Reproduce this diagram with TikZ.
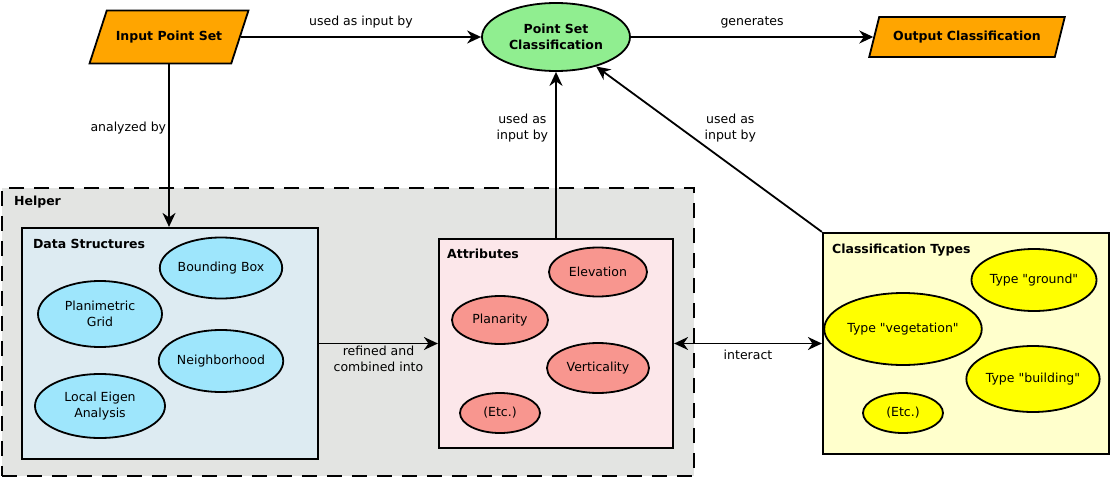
\documentclass[tikz,border=0pt]{standalone}
\usepackage{fontspec}
\setmainfont{DejaVu Sans}
\usetikzlibrary{shapes.geometric,arrows.meta}
\newcommand\diagfont{\fontsize{12.5}{16}\selectfont}
\definecolor{ioorange}{HTML}{FFA500}
\definecolor{pscgreen}{HTML}{90EE90}
\definecolor{helpergray}{HTML}{E3E4E2}
\definecolor{dsblue}{HTML}{DDEBF2}
\definecolor{dscyan}{HTML}{9EE6FC}
\definecolor{attrpink}{HTML}{FCE7EA}
\definecolor{attrsalmon}{HTML}{F8968F}
\definecolor{ctyellow}{HTML}{FFFFCC}
\definecolor{typeyellow}{HTML}{FFFF00}
\tikzset{
  iobox/.style={trapezium, trapezium left angle=72, trapezium right angle=108,
    draw, line width=1.8pt, fill=ioorange, font=\diagfont\bfseries},
  groupbox/.style={rectangle, draw, line width=2.2pt, inner sep=0pt},
  boxtitle/.style={font=\diagfont\bfseries, anchor=west, inner sep=0pt},
  part/.style={ellipse, draw, line width=1.8pt, inner sep=0pt, align=center},
  flow/.style={line width=1.8pt, -{Stealth[length=14pt,width=13pt]}},
  lbl/.style={align=center, inner sep=2pt}
}

\begin{document}
\begin{tikzpicture}[x=1pt,y=-1pt,font=\diagfont]
\useasboundingbox (0,0) rectangle (1112,479);

\node[iobox, inner xsep=9pt, inner ysep=20.5pt] (input) at (169,37) {Input Point Set};
\node[part, fill=pscgreen, font=\diagfont\bfseries, minimum width=148pt, minimum height=68pt] (psc) at (556,37) {Point Set\\Classification};
\node[iobox, trapezium left angle=76, trapezium right angle=104, inner xsep=14pt, inner ysep=14pt] (output) at (967,37) {Output Classification};

\node[groupbox, dash pattern=on 15pt off 10pt, fill=helpergray, minimum width=692pt, minimum height=288pt] (helper) at (348,332) {};
\node[boxtitle] (helpertitle) at ([shift={(13,15)}]helper.north west) {Helper};

\node[groupbox, fill=dsblue, minimum width=296pt, minimum height=231pt] (ds) at (170,343.5) {};
\node[boxtitle] (dstitle) at ([shift={(12,17)}]ds.north west) {Data Structures};
\node[part, fill=dscyan, minimum width=122pt, minimum height=61pt] (bbox) at (221,268) {Bounding Box};
\node[part, fill=dscyan, minimum width=124pt, minimum height=66pt] (grid) at (100,314) {Planimetric\\Grid};
\node[part, fill=dscyan, minimum width=124pt, minimum height=62pt] (neigh) at (221,361) {Neighborhood};
\node[part, fill=dscyan, minimum width=130pt, minimum height=64pt] (eigen) at (100,406) {Local Eigen\\Analysis};

\node[groupbox, fill=attrpink, minimum width=234pt, minimum height=209pt] (attr) at (556,343.5) {};
\node[boxtitle] (attrtitle) at ([shift={(9,16)}]attr.north west) {Attributes};
\node[part, fill=attrsalmon, minimum width=98pt, minimum height=49pt] (elev) at (598,272) {Elevation};
\node[part, fill=attrsalmon, minimum width=96pt, minimum height=48pt] (plan) at (500,320) {Planarity};
\node[part, fill=attrsalmon, minimum width=102pt, minimum height=50pt] (vert) at (598,368) {Verticality};
\node[part, fill=attrsalmon, minimum width=80pt, minimum height=40pt] (attretc) at (500,413) {(Etc.)};

\node[groupbox, fill=ctyellow, minimum width=286pt, minimum height=221pt] (ct) at (966,343.5) {};
\node[boxtitle] (cttitle) at ([shift={(10,18)}]ct.north west) {Classification Types};
\node[part, fill=typeyellow, minimum width=124pt, minimum height=62pt] (ground) at (1034,280) {Type \textquotedbl ground\textquotedbl};
\node[part, fill=typeyellow, minimum width=144pt, minimum height=72pt] (veg) at (903,329) {Type \textquotedbl vegetation\textquotedbl};
\node[part, fill=typeyellow, minimum width=130pt, minimum height=66pt] (building) at (1033,379) {Type \textquotedbl building\textquotedbl};
\node[part, fill=typeyellow, minimum width=80pt, minimum height=40pt] (ctetc) at (903,413) {(Etc.)};

\draw[flow] (input.east) -- node[above=6pt, lbl] (l1) {used as input by} (psc.west);
\draw[flow] (psc.east) -- node[above=6pt, lbl] (l2) {generates} (output.west);
\draw[flow] (input.south) -- node[left, pos=0.39, lbl] (l3) {analyzed by} (input.south |- ds.north);
\draw[flow] (attr.north) -- node[left=5pt, pos=0.66, lbl] (l4) {used as\\input by} (psc.south);
\draw[flow] (ct.north west) -- node[pos=0.63, right=22pt, lbl] (l5) {used as\\input by} (psc);
\draw[flow] (ds.east) -- node[below, lbl] (l6) {refined and\\combined into} (attr.west);
\draw[line width=1.8pt, {Stealth[length=14pt,width=13pt]}-{Stealth[length=14pt,width=13pt]}] (attr.east) -- node[below=4pt, lbl] (l7) {interact} (ct.west);
\end{tikzpicture}
\end{document}
